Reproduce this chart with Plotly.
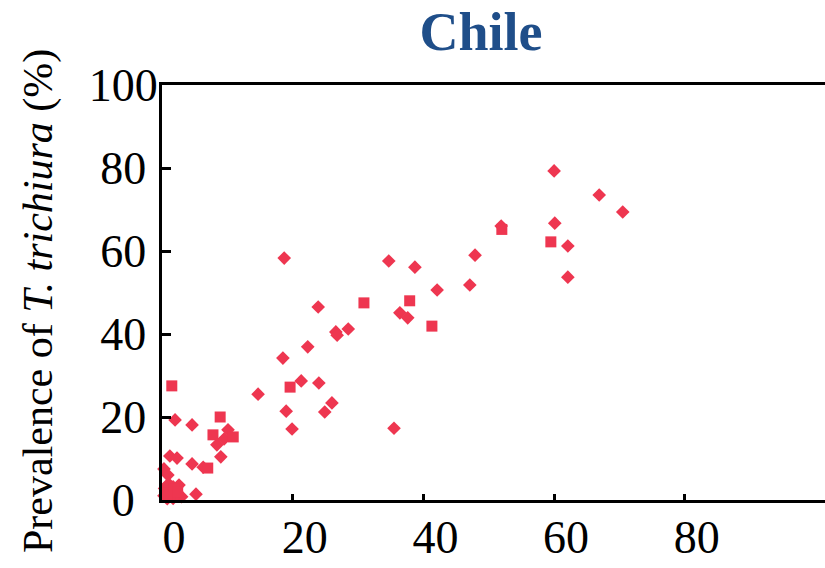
import plotly.graph_objects as go

# Points drawn as diamonds: (x, y) in percent
diamond_x = [60.0, 66.9, 70.5, 60.1, 51.9, 62.1, 47.9, 62.1, 42.1, 47.1,
             38.7, 34.7, 18.7, 23.9, 36.4, 37.6, 28.5, 26.6, 26.8, 22.3,
             18.5, 21.3, 24.0, 14.7, 19.0, 26.0, 24.9, 19.9, 35.5,
             2.0, 4.6, 10.1, 9.5, 8.4, 9.0, 1.2, 2.3, 4.6, 6.3, 0.3, 0.9,
             5.2, 0.4, 1.0, 2.6, 1.6, 2.2, 3.0, 0.8, 1.7, 0.3, 1.7]
diamond_y = [79.3, 73.5, 69.4, 66.7, 66.0, 61.2, 59.0, 53.7, 50.6, 51.8,
             56.1, 57.6, 58.3, 46.5, 45.1, 43.9, 41.2, 40.5, 39.7, 36.9,
             34.2, 28.7, 28.2, 25.5, 21.4, 23.4, 21.2, 17.1, 17.3,
             19.3, 18.1, 16.9, 14.7, 13.3, 10.4, 10.6, 10.1, 8.7, 7.9, 7.5, 6.0,
             1.4, 2.8, 3.9, 3.6, 2.0, 1.2, 0.8, 0.3, 0.4, 1.0, 3.2]

# Points drawn as squares
square_x = [52.0, 59.5, 30.9, 37.9, 41.3, 19.6, 1.5, 8.9, 7.8, 10.9, 7.0,
            0.6, 1.2, 1.9, 0.7, 2.4]
square_y = [65.2, 62.2, 47.5, 48.0, 41.9, 27.2, 27.5, 20.0, 15.7, 15.2, 7.7,
            1.8, 1.2, 2.7, 0.6, 2.0]

x_ticks = [0, 20, 40, 60, 80]
y_ticks = [0, 20, 40, 60, 80, 100]

RED = "#EE3650"
SERIF = "Liberation Serif"

# y tick labels are visually centred: pad shorter numbers on the right
# with half-digit spaces (U+2008) so that they line up on a common centre
HALF = "\u2008"
y_ticktext = [str(v) + HALF * (3 - len(str(v))) for v in y_ticks]

fig = go.Figure()
fig.add_trace(go.Scatter(
    x=diamond_x, y=diamond_y, mode="markers", cliponaxis=False,
    marker=dict(symbol="diamond", size=10.5, color=RED, line=dict(width=0)),
    showlegend=False,
))
fig.add_trace(go.Scatter(
    x=square_x, y=square_y, mode="markers", cliponaxis=False,
    marker=dict(symbol="square", size=11, color=RED, line=dict(width=0)),
    showlegend=False,
))

fig.update_layout(
    width=825, height=568,
    margin=dict(l=162, r=0, t=85, b=68),
    paper_bgcolor="white", plot_bgcolor="white",
    font=dict(family=SERIF, color="black"),
    title=dict(
        text="<b>Chile</b>", x=481 / 825, xref="container", xanchor="center",
        y=1 - 31 / 568, yref="container", yanchor="middle",
        font=dict(family=SERIF, size=54, color="#1F4E89"),
    ),
    xaxis=dict(
        range=[0, 101.45], tickvals=x_ticks, ticks="inside", ticklen=6,
        tickwidth=2.5, tickcolor="black", showline=True, linewidth=3,
        linecolor="black", mirror=True, showgrid=False, zeroline=False,
        tickfont=dict(family=SERIF, size=46), ticklabelshift=12,
        ticklabelstandoff=-5,
    ),
    yaxis=dict(
        range=[0, 100], tickvals=y_ticks, ticktext=y_ticktext,
        ticks="inside", ticklen=9,
        tickwidth=2.5, tickcolor="black", showline=True, linewidth=3,
        linecolor="black", showgrid=False, zeroline=False,
        tickfont=dict(family=SERIF, size=46), ticklabelstandoff=-8,
    ),
    annotations=[dict(
        text="Prevalence of <i>T. trichiura</i> (%)", textangle=-90,
        xref="paper", yref="paper", x=(38 - 162) / 663, y=(500 - 301) / 415,
        xanchor="center", yanchor="middle", showarrow=False,
        font=dict(family=SERIF, size=42, color="black"),
    )],
)

fig.write_html("out.html")
